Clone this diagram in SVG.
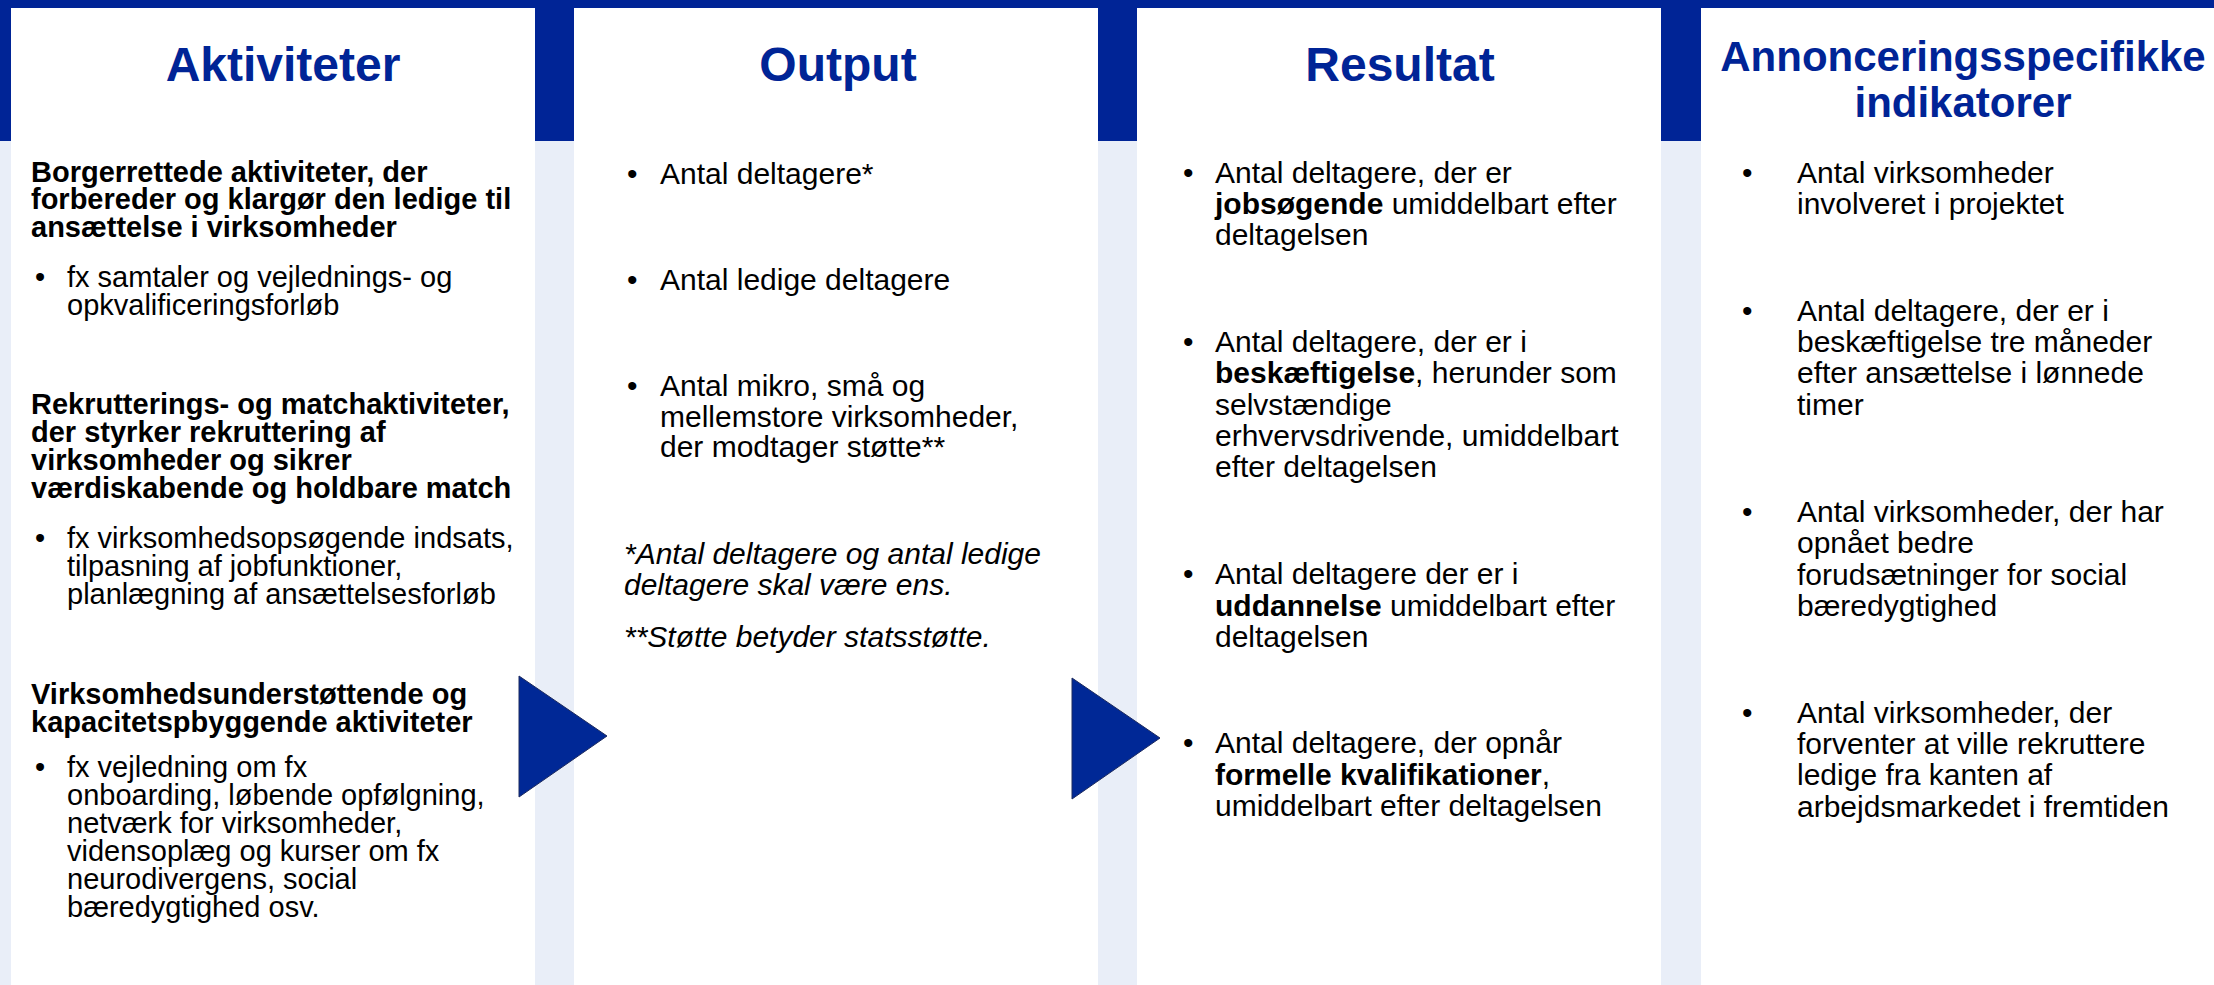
<svg xmlns="http://www.w3.org/2000/svg" width="2214" height="985" viewBox="0 0 2214 985">
<style>
.title{font-family:"Liberation Sans",Arial,sans-serif;font-weight:bold;fill:#002496;text-anchor:middle}
.t{font-family:"Liberation Sans",Arial,sans-serif;fill:#000}
.c1{font-size:29px}
.c{font-size:30px}
.b{font-weight:bold}
.i{font-style:italic}
.card{fill:#ffffff}
.arrow{fill:#002896;stroke:#1c2a5e;stroke-width:1}
</style>
<rect x="0" y="0" width="2214" height="985" fill="#E9EEF8"/>
<rect x="0" y="0" width="2214" height="141" fill="#002496"/>

<g id="aktiviteter">
<rect class="card" x="11" y="8" width="524" height="977"/>
<text class="title" x="283" y="81" font-size="48">Aktiviteter</text>
<text class="t c1 b"><tspan x="31" y="182">Borgerrettede aktiviteter, der</tspan><tspan x="31" y="209">forbereder og klargør den ledige til</tspan><tspan x="31" y="237">ansættelse i virksomheder</tspan></text>
<text class="t c1" x="35" y="287">•</text>
<text class="t c1"><tspan x="67" y="287">fx samtaler og vejlednings- og</tspan><tspan x="67" y="315">opkvalificeringsforløb</tspan></text>
<text class="t c1 b"><tspan x="31" y="414">Rekrutterings- og matchaktiviteter,</tspan><tspan x="31" y="442">der styrker rekruttering af</tspan><tspan x="31" y="470">virksomheder og sikrer</tspan><tspan x="31" y="498">værdiskabende og holdbare match</tspan></text>
<text class="t c1" x="35" y="548">•</text>
<text class="t c1"><tspan x="67" y="548">fx virksomhedsopsøgende indsats,</tspan><tspan x="67" y="576">tilpasning af jobfunktioner,</tspan><tspan x="67" y="604">planlægning af ansættelsesforløb</tspan></text>
<text class="t c1 b"><tspan x="31" y="704">Virksomhedsunderstøttende og</tspan><tspan x="31" y="732">kapacitetspbyggende aktiviteter</tspan></text>
<text class="t c1" x="35" y="777">•</text>
<text class="t c1"><tspan x="67" y="777">fx vejledning om fx</tspan><tspan x="67" y="805">onboarding,  løbende opfølgning,</tspan><tspan x="67" y="833">netværk for virksomheder,</tspan><tspan x="67" y="861">vidensoplæg og kurser om fx</tspan><tspan x="67" y="889">neurodivergens, social</tspan><tspan x="67" y="917">bæredygtighed osv.</tspan></text>
</g>

<g id="output">
<rect class="card" x="574" y="8" width="524" height="977"/>
<text class="title" x="838" y="81" font-size="48">Output</text>
<text class="t c" x="627" y="184">•</text>
<text class="t c" x="660" y="184">Antal deltagere*</text>
<text class="t c" x="627" y="290">•</text>
<text class="t c" x="660" y="290">Antal ledige deltagere</text>
<text class="t c" x="627" y="396">•</text>
<text class="t c"><tspan x="660" y="396">Antal mikro, små og</tspan><tspan x="660" y="427">mellemstore virksomheder,</tspan><tspan x="660" y="457">der modtager støtte**</tspan></text>
<text class="t c i"><tspan x="624" y="564">*Antal deltagere og antal ledige</tspan><tspan x="624" y="595">deltagere skal være ens.</tspan></text>
<text class="t c i" x="624" y="647">**Støtte betyder statsstøtte.</text>
</g>

<g id="resultat">
<rect class="card" x="1137" y="8" width="524" height="977"/>
<text class="title" x="1400" y="81" font-size="48">Resultat</text>
<text class="t c" x="1183" y="183">•</text>
<text class="t c"><tspan x="1215" y="183">Antal deltagere, der er</tspan><tspan x="1215" y="214"><tspan class="b">jobsøgende</tspan> umiddelbart efter</tspan><tspan x="1215" y="245">deltagelsen</tspan></text>
<text class="t c" x="1183" y="352">•</text>
<text class="t c"><tspan x="1215" y="352">Antal deltagere, der er i</tspan><tspan x="1215" y="383"><tspan class="b">beskæftigelse</tspan>, herunder som</tspan><tspan x="1215" y="415">selvstændige</tspan><tspan x="1215" y="446">erhvervsdrivende, umiddelbart</tspan><tspan x="1215" y="477">efter deltagelsen</tspan></text>
<text class="t c" x="1183" y="584">•</text>
<text class="t c"><tspan x="1215" y="584">Antal deltagere der er i</tspan><tspan x="1215" y="616"><tspan class="b">uddannelse</tspan> umiddelbart efter</tspan><tspan x="1215" y="647">deltagelsen</tspan></text>
<text class="t c" x="1183" y="753">•</text>
<text class="t c"><tspan x="1215" y="753">Antal deltagere, der opnår</tspan><tspan x="1215" y="785"><tspan class="b">formelle kvalifikationer</tspan>,</tspan><tspan x="1215" y="816">umiddelbart efter deltagelsen</tspan></text>
</g>

<g id="indikatorer">
<rect class="card" x="1701" y="8" width="513" height="977"/>
<text class="title" font-size="42"><tspan x="1963" y="71">Annonceringsspecifikke</tspan><tspan x="1963" y="117">indikatorer</tspan></text>
<text class="t c" x="1742" y="183">•</text>
<text class="t c"><tspan x="1797" y="183">Antal virksomheder</tspan><tspan x="1797" y="214">involveret i projektet</tspan></text>
<text class="t c" x="1742" y="321">•</text>
<text class="t c"><tspan x="1797" y="321">Antal deltagere, der er i</tspan><tspan x="1797" y="352">beskæftigelse tre måneder</tspan><tspan x="1797" y="383">efter ansættelse i lønnede</tspan><tspan x="1797" y="415">timer</tspan></text>
<text class="t c" x="1742" y="522">•</text>
<text class="t c"><tspan x="1797" y="522">Antal virksomheder, der har</tspan><tspan x="1797" y="553">opnået bedre</tspan><tspan x="1797" y="585">forudsætninger for social</tspan><tspan x="1797" y="616">bæredygtighed</tspan></text>
<text class="t c" x="1742" y="723">•</text>
<text class="t c"><tspan x="1797" y="723">Antal virksomheder, der</tspan><tspan x="1797" y="754">forventer at ville rekruttere</tspan><tspan x="1797" y="785">ledige fra kanten af</tspan><tspan x="1797" y="817">arbejdsmarkedet i fremtiden</tspan></text>
</g>

<g id="connectors">
<polygon class="arrow" points="519,676 607,736 519,797"/>
<polygon class="arrow" points="1072,678 1160,738 1072,799"/>
</g>
</svg>
